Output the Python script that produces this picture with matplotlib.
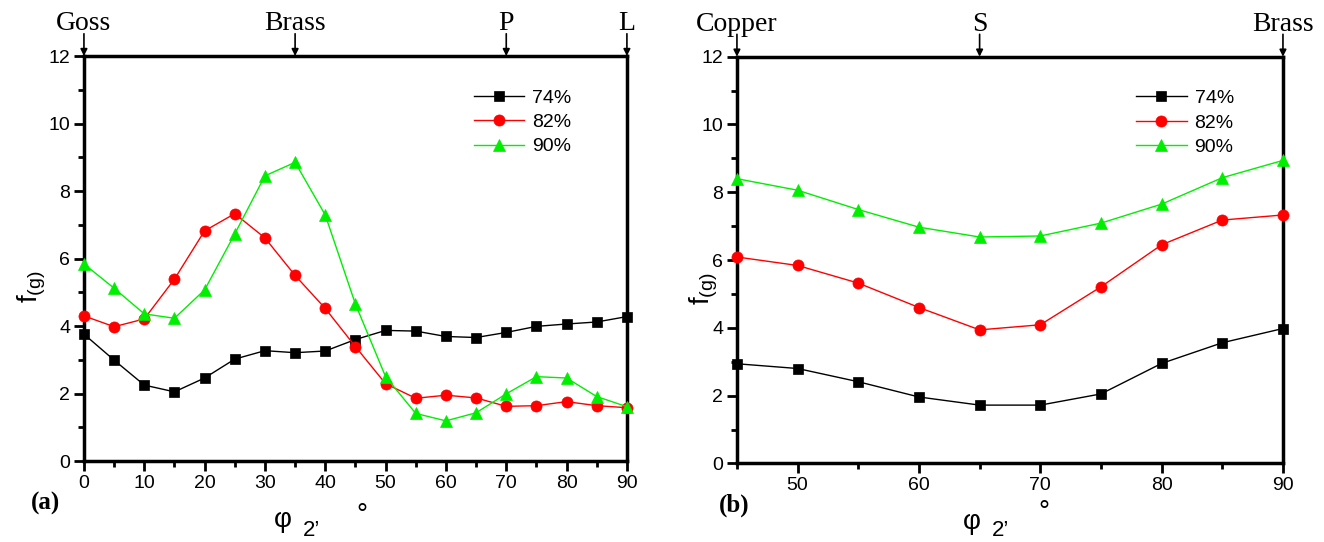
import matplotlib
matplotlib.use("Agg")
import matplotlib.pyplot as plt
from matplotlib.ticker import MultipleLocator

# ---- data ----
phi2_a = [0, 5, 10, 15, 20, 25, 30, 35, 40, 45, 50, 55, 60, 65, 70, 75, 80, 85, 90]
a_74 = [3.76, 2.99, 2.25, 2.05, 2.46, 3.02, 3.27, 3.21, 3.26, 3.60, 3.87, 3.85, 3.69, 3.66, 3.81, 3.99, 4.06, 4.12, 4.28]
a_82 = [4.30, 3.98, 4.21, 5.39, 6.82, 7.33, 6.61, 5.50, 4.52, 3.39, 2.29, 1.86, 1.95, 1.87, 1.62, 1.64, 1.76, 1.64, 1.58]
a_90 = [5.84, 5.12, 4.36, 4.23, 5.07, 6.73, 8.45, 8.85, 7.29, 4.65, 2.50, 1.41, 1.19, 1.43, 1.99, 2.50, 2.46, 1.91, 1.61]

phi2_b = [45, 50, 55, 60, 65, 70, 75, 80, 85, 90]
b_74 = [2.94, 2.80, 2.41, 1.96, 1.72, 1.72, 2.05, 2.95, 3.56, 3.98]
b_82 = [6.09, 5.84, 5.32, 4.60, 3.94, 4.09, 5.21, 6.45, 7.18, 7.33]
b_90 = [8.40, 8.06, 7.49, 6.97, 6.68, 6.71, 7.09, 7.65, 8.43, 8.94]

series_labels = ["74%", "82%", "90%"]
a_comp_names = ["Goss", "Brass", "P", "L"]
a_comp_pos = [0, 35, 70, 90]
b_comp_names = ["Copper", "S", "Brass"]
b_comp_pos = [45, 65, 90]

colors = ["black", "#FF0000", "#00EE00"]
markers = ["s", "o", "^"]
msizes = [6.5, 8, 8.5]

fig = plt.figure(figsize=(13.24, 5.42), dpi=100)
ax1 = fig.add_axes([0.0634, 0.1494, 0.4101, 0.7472])
ax2 = fig.add_axes([0.5566, 0.1450, 0.4124, 0.7504])

serif = ["Liberation Serif", "DejaVu Serif"]
sans = ["Liberation Sans", "DejaVu Sans"]

def style(ax, x, ys, xlim, comp_names, comp_pos, xmajor_start, leg_x, ylab_x):
    for y, c, m, ms, lab in zip(ys, colors, markers, msizes, series_labels):
        ax.plot(x, y, color=c, marker=m, markersize=ms, lw=1.0, label=lab,
                markeredgecolor=c, markeredgewidth=0.5, clip_on=False, zorder=3)
    ax.set_xlim(*xlim)
    ax.set_ylim(0, 12)
    ax.set_xticks(list(range(xmajor_start, xlim[1] + 1, 10)))
    ax.xaxis.set_minor_locator(MultipleLocator(5))
    ax.yaxis.set_major_locator(MultipleLocator(2))
    ax.yaxis.set_minor_locator(MultipleLocator(1))
    for s in ax.spines.values():
        s.set_linewidth(2.5)
    ax.tick_params(which="major", direction="out", length=7, width=2,
                   labelsize=14, top=False, right=False, pad=3)
    ax.tick_params(which="minor", direction="out", length=4, width=2,
                   top=False, right=False)
    for lbl in ax.get_xticklabels() + ax.get_yticklabels():
        lbl.set_fontfamily(sans)
    ax.set_ylabel("f$_{\\mathregular{(g)}}$", fontsize=20, family=sans)
    ax.yaxis.set_label_coords(ylab_x, 0.43)
    ax.legend(loc="upper right", bbox_to_anchor=(leg_x, 0.962), frameon=False,
              handlelength=2.6, labelspacing=0.35, handletextpad=0.4,
              prop={"family": sans, "size": 14})
    for cn, cp in zip(comp_names, comp_pos):
        ax.annotate("", xy=(cp, 12), xycoords="data",
                    xytext=(cp, 12.66), textcoords="data",
                    arrowprops=dict(arrowstyle="-|>", color="black", lw=1.2,
                                    mutation_scale=10, shrinkA=0, shrinkB=0),
                    annotation_clip=False)
        ax.text(cp, 12.77, cn, ha="center", va="baseline", fontsize=20,
                family=serif, clip_on=False)

style(ax1, phi2_a, [a_74, a_82, a_90], (0, 90), a_comp_names, a_comp_pos, 0, 0.93, -0.066)
style(ax2, phi2_b, [b_74, b_82, b_90], (45, 90), b_comp_names, b_comp_pos, 50, 0.942, -0.031)

# x labels (phi_2, degree) and panel tags
fig.text(0.2137, 0.0406, "φ", fontsize=20, family=sans, ha="center", va="center")
fig.text(0.2356, 0.0221, "2’", fontsize=16, family=sans, ha="center", va="center")
fig.text(0.2734, 0.048, "°", fontsize=20, family=sans, ha="center", va="center")
fig.text(0.034, 0.072, "(a)", fontsize=18, family=serif, weight="bold",
         ha="center", va="center")

fig.text(0.7341, 0.037, "φ", fontsize=20, family=sans, ha="center", va="center")
fig.text(0.7553, 0.021, "2’", fontsize=16, family=sans, ha="center", va="center")
fig.text(0.7885, 0.0535, "°", fontsize=20, family=sans, ha="center", va="center")
fig.text(0.5544, 0.0683, "(b)", fontsize=18, family=serif, weight="bold",
         ha="center", va="center")

fig.savefig("out.png", dpi=100)
